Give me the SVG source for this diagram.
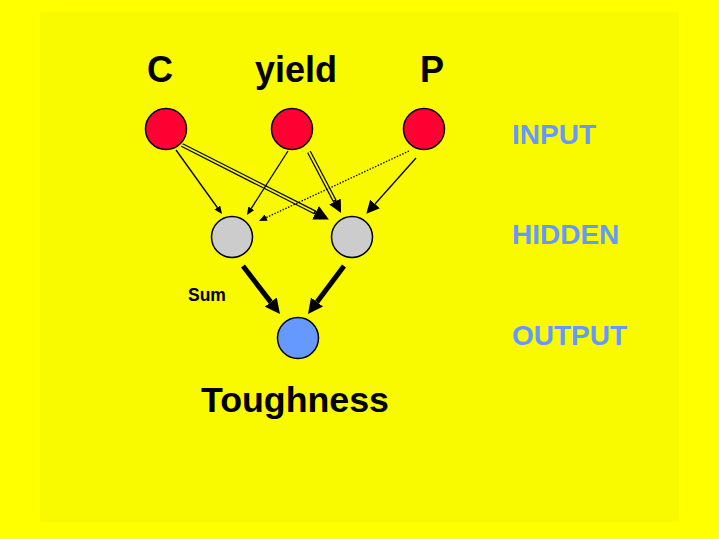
<svg xmlns="http://www.w3.org/2000/svg" width="719" height="539" viewBox="0 0 719 539">
<style>
.node{stroke:#000;stroke-width:1.5}
.in{fill:#FF0033}
.hid{fill:#CCCCCC}
.out{fill:#6699FF}
.t{font-family:"Liberation Sans",Arial,sans-serif;font-weight:bold;fill:#000}
.lab{font-family:"Liberation Sans",Arial,sans-serif;font-weight:bold;fill:#6699FF;font-size:28px}
.thin{stroke:#000;stroke-width:1.3;fill:none}
.dbl{stroke:#000;stroke-width:4.2;fill:none}
.dblin{stroke:#F9F900;stroke-width:1.8;fill:none}
.thick{stroke:#000;stroke-width:5;fill:none}
</style>
<defs>
<marker id="hs" markerUnits="userSpaceOnUse" markerWidth="8" markerHeight="7" viewBox="0 0 10 10" preserveAspectRatio="none" refX="0" refY="5" orient="auto"><path d="M0,0 L10,5 L0,10 z" fill="#000"/></marker>
<marker id="hm" markerUnits="userSpaceOnUse" markerWidth="13" markerHeight="13" viewBox="0 0 10 10" preserveAspectRatio="none" refX="0" refY="5" orient="auto"><path d="M0,0 L10,5 L0,10 z" fill="#000"/></marker>
<marker id="hl" markerUnits="userSpaceOnUse" markerWidth="15" markerHeight="15" viewBox="0 0 10 10" preserveAspectRatio="none" refX="0" refY="5" orient="auto"><path d="M0,0 L10,5 L0,10 z" fill="#000"/></marker>
</defs>
<rect x="0" y="0" width="719" height="539" fill="#FFFF00"/>
<rect x="40" y="12" width="639" height="510" fill="#F9F900"/>
<g id="connectors">
<line class="thin" x1="176" y1="150" x2="217.3" y2="207.5" marker-end="url(#hs)"/>
<line class="dbl" x1="182" y1="145" x2="315.5" y2="212.7" marker-end="url(#hl)"/>
<line class="dblin" x1="182" y1="145" x2="314" y2="212"/>
<line class="thin" x1="288" y1="151" x2="251.3" y2="208.3" marker-end="url(#hs)"/>
<line class="dbl" x1="309" y1="152" x2="335" y2="201.5" marker-end="url(#hm)"/>
<line class="dblin" x1="309" y1="152" x2="334.3" y2="200.2"/>
<line class="thin" stroke-dasharray="1.5 1.5" x1="409" y1="151" x2="266.2" y2="217.6" marker-end="url(#hs)"/>
<line class="thin" x1="416" y1="158" x2="375" y2="204" marker-end="url(#hm)"/>
<line class="thick" x1="243" y1="266" x2="270.8" y2="302.1" marker-end="url(#hl)"/>
<line class="thick" x1="344" y1="266" x2="317" y2="302" marker-end="url(#hl)"/>
</g>
<g id="node-C"><circle class="node in" cx="166" cy="129" r="20.5"/><text class="t" x="160" y="82" font-size="36" text-anchor="middle">C</text></g>
<g id="node-yield"><circle class="node in" cx="292" cy="129" r="20.5"/><text class="t" x="296" y="82" font-size="36" text-anchor="middle">yield</text></g>
<g id="node-P"><circle class="node in" cx="424" cy="129" r="20.5"/><text class="t" x="432" y="82" font-size="36" text-anchor="middle">P</text></g>
<g id="node-H1"><circle class="node hid" cx="232" cy="237" r="20.5"/></g>
<g id="node-H2"><circle class="node hid" cx="352" cy="237" r="20.5"/></g>
<g id="node-out"><circle class="node out" cx="298" cy="338" r="20.5"/></g>
<text class="t" x="188" y="301" font-size="17.5">Sum</text>
<text class="t" x="201" y="412" font-size="35" textLength="188" lengthAdjust="spacingAndGlyphs">Toughness</text>
<text class="lab" x="512" y="144">INPUT</text>
<text class="lab" x="512" y="244">HIDDEN</text>
<text class="lab" x="512" y="345">OUTPUT</text>
</svg>
